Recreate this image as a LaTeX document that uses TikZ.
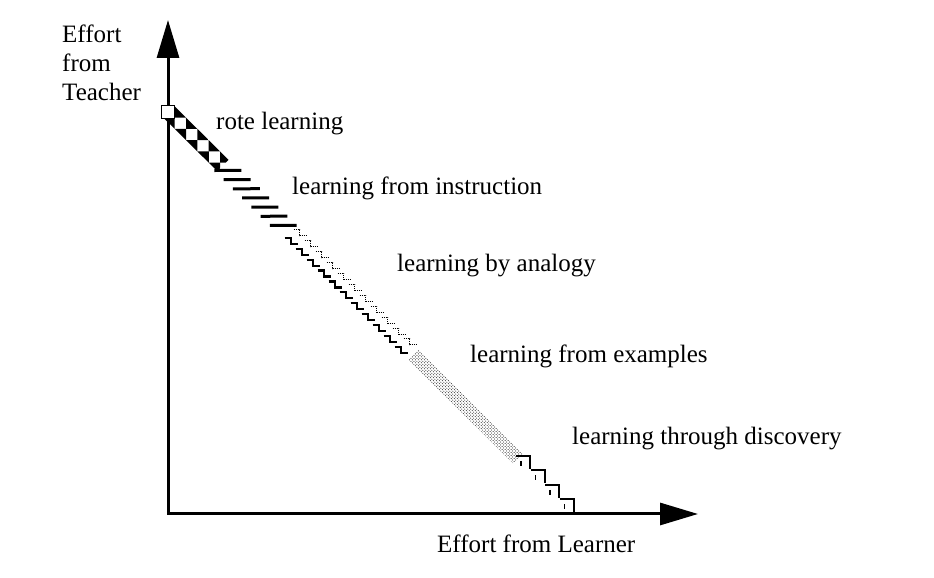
\documentclass[tikz,border=0pt]{standalone}
\usepackage{fontspec}
\setmainfont{Liberation Serif}
\usetikzlibrary{arrows.meta,calc,patterns}

\begin{document}
\begin{tikzpicture}[x=1bp,y=1bp,>={Triangle[length=38bp,width=22bp]},
  axis/.style={line width=3bp,line join=miter},
  lbl/.style={anchor=base west,inner sep=0pt,align=left,
    font=\fontsize{25.1}{29.1}\selectfont},
  instrdash/.style={line width=3bp},
  wave/.style={line width=2.2bp},
  wavedot/.style={line width=1bp,densely dotted},
  stairline/.style={line width=2bp}]
  \useasboundingbox (0,0) rectangle (934,578);
  % axes
  \coordinate (O) at (168,64);
  \coordinate (ytip) at (168,558);
  \coordinate (xtip) at (698,64);
  \draw[axis,<->] (ytip) -- (O) -- (xtip);
  % the diagonal band, teacher end to learner end
  \coordinate (A) at (169,466);
  \coordinate (B) at (574,64);
  \begin{scope}[shift={(A)},rotate=-44.78]
    % rote learning
    \begin{scope}
      \clip (0,-8) rectangle (76,8);
      \foreach \k in {0,...,5}
        \foreach \u in {-8,8}
          \fill ({\k*16},\u) -- ({\k*16+8},{\u+8})
            -- ({\k*16+16},\u) -- ({\k*16+8},{\u-8}) -- cycle;
    \end{scope}
    % learning from instruction
    \foreach \s in {83,96,...,166}
      \draw[instrdash] ({\s-9.5},-9.5) -- ({\s+9.5},9.5);
    % learning from examples
    \fill[pattern=crosshatch dots] (344,-7) rectangle (492,7);
  \end{scope}
  % learning by analogy
  \foreach \i in {0,...,10}{
    \coordinate (w\i) at ($(A)!{(180+15.5*\i)/570.7}!(B)$);
    \draw[wave] ($(w\i)+(-12,1)$) -- ++(6,0) -- ++(0,-6) -- ++(7,0);
    \draw[wavedot] ($(w\i)+(-3,9)$) -- ++(6,0) -- ++(0,-6) -- ++(6,0);
  }
  % learning through discovery
  \foreach \i in {0,...,3}{
    \draw[stairline] ({516+14.5*\i},{122-14.5*\i}) -- ++(14,0) -- ++(0,-13);
    \draw[line width=1.2bp] ({521+14.5*\i},{117-14.5*\i}) -- ++(0,-5);
  }
  \node[draw,fill=white,line width=1.2bp,minimum size=13bp,inner sep=0pt]
    (handle) at (168,466) {};
  % labels
  \node[lbl,anchor=north west] (teacher) at (62,553) {Effort\\from\\Teacher};
  \node[lbl] (rote) at (216,448) {rote learning};
  \node[lbl] (instr) at (292,383) {learning from instruction};
  \node[lbl] (analogy) at (397,306) {learning by analogy};
  \node[lbl] (examples) at (470,215) {learning from examples};
  \node[lbl] (discovery) at (572,133) {learning through discovery};
  \node[lbl] (learner) at (437,25) {Effort from Learner};
\end{tikzpicture}
\end{document}
